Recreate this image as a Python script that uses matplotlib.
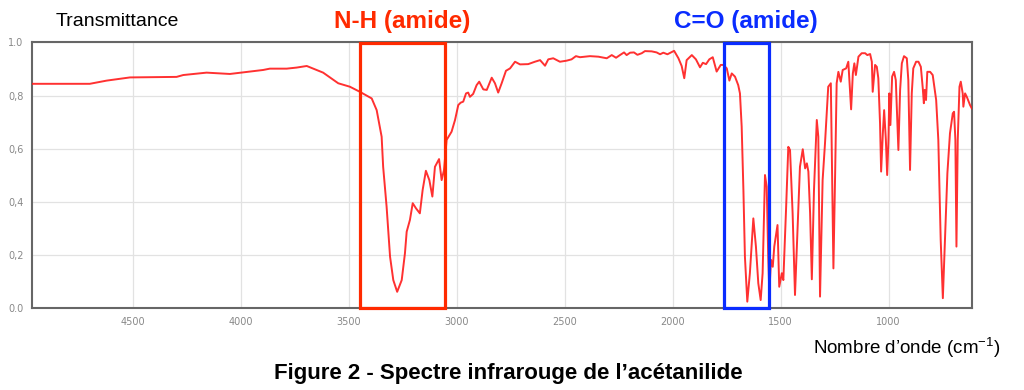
import matplotlib
matplotlib.use("Agg")
import matplotlib.pyplot as plt
from matplotlib.patches import Rectangle
import numpy as np

plt.rcParams['font.family'] = ['Liberation Sans', 'DejaVu Sans']
plt.rcParams['mathtext.fontset'] = 'custom'
plt.rcParams['mathtext.rm'] = 'Liberation Sans'

# spectre IR de l'acétanilide
wavenumber = [
    4969, 4701, 4623, 4515, 4299, 4268, 4160, 4052, 3990, 3898, 3867, 3789, 3743, 3696,
    3620, 3550, 3496, 3450, 3395, 3372, 3349, 3342, 3326, 3310, 3295, 3277, 3256, 3241,
    3233, 3218, 3205, 3190, 3172, 3159, 3144, 3128, 3114, 3102, 3083, 3071, 3060, 3048,
    3025, 3009, 2994, 2983, 2971, 2958, 2948, 2940, 2925, 2909, 2897, 2878, 2862, 2839,
    2824, 2809, 2793, 2773, 2754, 2731, 2708, 2670, 2639, 2615, 2592, 2577, 2554, 2523,
    2492, 2469, 2449, 2430, 2384, 2345, 2306, 2283, 2263, 2245, 2226, 2214, 2198, 2180,
    2164, 2144, 2129, 2098, 2075, 2059, 2044, 2025, 2008, 1994, 1974, 1959, 1947, 1936,
    1912, 1893, 1874, 1861, 1846, 1831, 1815, 1797, 1778, 1766, 1750, 1738, 1727, 1712,
    1697, 1689, 1681, 1673, 1666, 1655, 1643, 1627, 1615, 1604, 1593, 1584, 1573, 1565,
    1558, 1553, 1545, 1537, 1530, 1515, 1507, 1495, 1488, 1475, 1465, 1457, 1445, 1434,
    1421, 1411, 1398, 1387, 1379, 1372, 1364, 1356, 1346, 1333, 1326, 1318, 1306, 1295,
    1280, 1268, 1256, 1248, 1241, 1233, 1222, 1213, 1197, 1187, 1174, 1166, 1159, 1152,
    1140, 1125, 1109, 1099, 1086, 1078, 1074, 1063, 1055, 1048, 1040, 1035, 1027, 1021,
    1013, 1007, 1001, 997, 992, 984, 975, 967, 955, 947, 939, 929, 916, 909,
    901, 893, 886, 873, 862, 851, 842, 837, 833, 827, 821, 808, 796, 780,
    770, 759, 749, 739, 728, 716, 703, 697, 691, 686, 680, 672, 666, 657,
    654, 646, 638, 623, 615,
]
transmittance = [
    0.844, 0.844, 0.856, 0.868, 0.870, 0.877, 0.886, 0.881, 0.887, 0.896, 0.901, 0.901, 0.905, 0.911,
    0.886, 0.846, 0.833, 0.814, 0.789, 0.745, 0.645, 0.532, 0.382, 0.194, 0.106, 0.062, 0.106, 0.207,
    0.288, 0.332, 0.395, 0.376, 0.357, 0.445, 0.517, 0.482, 0.420, 0.532, 0.561, 0.482, 0.520, 0.633,
    0.664, 0.708, 0.764, 0.773, 0.777, 0.808, 0.811, 0.795, 0.806, 0.839, 0.852, 0.823, 0.821, 0.867,
    0.846, 0.811, 0.846, 0.893, 0.902, 0.927, 0.917, 0.918, 0.927, 0.933, 0.912, 0.936, 0.940, 0.927,
    0.931, 0.936, 0.948, 0.944, 0.948, 0.946, 0.940, 0.952, 0.942, 0.952, 0.962, 0.952, 0.961, 0.962,
    0.953, 0.959, 0.967, 0.966, 0.962, 0.955, 0.961, 0.955, 0.962, 0.968, 0.940, 0.911, 0.865, 0.933,
    0.952, 0.936, 0.906, 0.923, 0.918, 0.936, 0.944, 0.890, 0.915, 0.915, 0.902, 0.856, 0.883, 0.871,
    0.839, 0.808, 0.683, 0.445, 0.194, 0.025, 0.132, 0.338, 0.232, 0.094, 0.031, 0.132, 0.501, 0.457,
    0.194, 0.060, 0.182, 0.156, 0.232, 0.313, 0.081, 0.132, 0.106, 0.382, 0.607, 0.595, 0.357, 0.050,
    0.320, 0.532, 0.598, 0.526, 0.545, 0.514, 0.357, 0.109, 0.445, 0.708, 0.645, 0.044, 0.482, 0.620,
    0.833, 0.846, 0.150, 0.508, 0.846, 0.889, 0.852, 0.896, 0.902, 0.927, 0.748, 0.883, 0.921, 0.877,
    0.946, 0.959, 0.959, 0.952, 0.956, 0.927, 0.814, 0.915, 0.908, 0.865, 0.695, 0.514, 0.658, 0.745,
    0.633, 0.501, 0.633, 0.808, 0.689, 0.871, 0.889, 0.858, 0.595, 0.821, 0.921, 0.948, 0.940, 0.858,
    0.520, 0.808, 0.902, 0.927, 0.927, 0.908, 0.827, 0.771, 0.821, 0.783, 0.889, 0.889, 0.877, 0.783,
    0.633, 0.257, 0.038, 0.257, 0.508, 0.658, 0.733, 0.739, 0.633, 0.232, 0.633, 0.833, 0.852, 0.808,
    0.758, 0.808, 0.795, 0.764, 0.752,
]

x_ticks = [4500, 4000, 3500, 3000, 2500, 2000, 1500, 1000]
y_ticks = [0.0, 0.2, 0.4, 0.6, 0.8, 1.0]
y_labels = ['0.0', '0,2', '0,4', '0,6', '0,8', '1.0']

# zones encadrées : (début, fin, couleur, texte)
bandes = [
    (3450, 3055, '#ff2a00', 'N-H (amide)'),
    (1765, 1555, '#0a2cff', 'C=O (amide)'),
]

fig = plt.figure(figsize=(10.24, 3.9), dpi=100)
ax = fig.add_axes([0.031, 0.2095, 0.918, 0.682])

ax.plot(wavenumber, transmittance, color='#ff1a1a', lw=1.4, alpha=0.9, zorder=3)

ax.set_xlim(4970, 615)
ax.set_ylim(0, 1)
ax.set_xticks(x_ticks)
ax.set_xticklabels([str(t) for t in x_ticks])
ax.set_yticks(y_ticks)
ax.set_yticklabels(y_labels)
ax.tick_params(length=0, labelsize=7, labelcolor='#888888', pad=6,
               labelfontfamily='DejaVu Sans')
ax.grid(color='#e2e2e2', lw=0.9)
ax.set_axisbelow(True)
for s in ax.spines.values():
    s.set_color('#666666')
    s.set_linewidth(1.5)

for x0, x1, c, txt in bandes:
    ax.add_patch(Rectangle((x1, 0), x0 - x1, 0.996, fill=False, ec=c, lw=2.3,
                           clip_on=False, zorder=4))
    xm = (x0 + x1) / 2
    ax.text(xm, 1.08, txt, color=c, fontsize=17.5, fontweight='bold',
            ha='center', va='center', transform=ax.get_xaxis_transform())

fig.text(0.054, 0.946, 'Transmittance', fontsize=14, ha='left', va='center')
fig.text(0.977, 0.11, 'Nombre d’onde (cm$^{-1}$)', fontsize=13.5, ha='right', va='center')
fig.text(0.496, 0.043, 'Figure 2 - Spectre infrarouge de l’acétanilide', fontsize=16,
         fontweight='bold', ha='center', va='center')

fig.savefig('out.png', dpi=100)
